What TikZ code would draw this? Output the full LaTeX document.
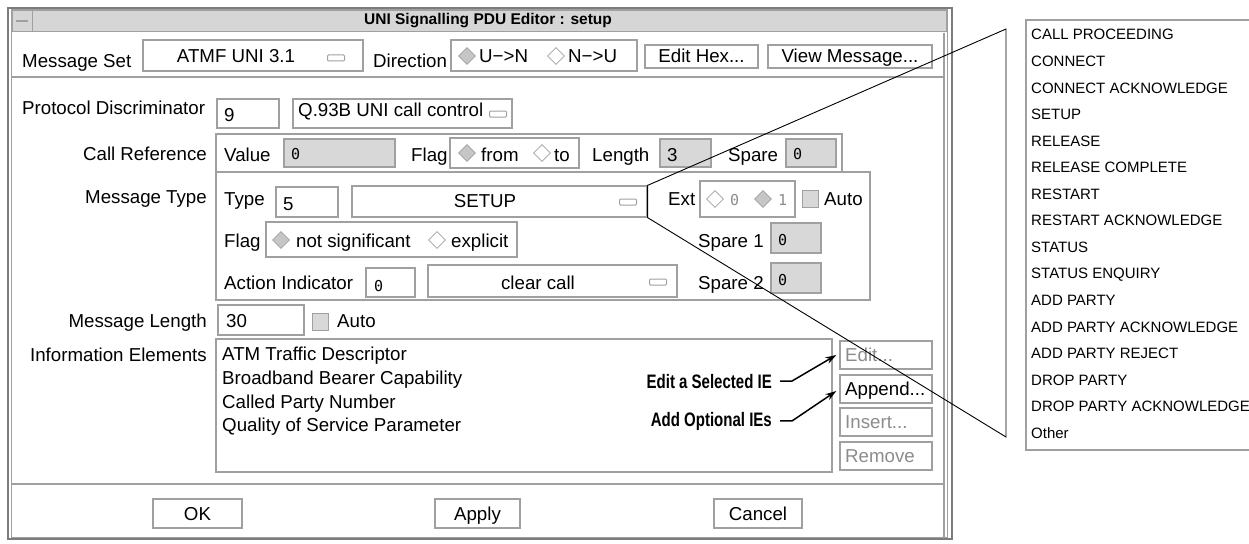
\documentclass[tikz,border=0pt]{standalone}
\usepackage{fontspec}
\setmainfont{Liberation Sans}
\newfontfamily\notefont{Liberation Sans}[FakeStretch=0.77]
\newfontfamily\digitfont{DejaVu Sans Mono}
\usetikzlibrary{fit,shapes.geometric,arrows.meta}

\definecolor{edge}{HTML}{A0A0A0}
\definecolor{winedge}{HTML}{7C7C7C}
\definecolor{titlefill}{HTML}{D6D6D6}
\definecolor{fieldfill}{HTML}{D8D8D8}
\definecolor{dimtext}{HTML}{8C8C8C}
\definecolor{diafill}{HTML}{C6C6C6}

% a widget rectangle given by its two corners
\newcommand\wbox[6]{\node[#1, fit={(#3,#4) (#5,#6)}] (#2) {};}

\tikzset{
  ui/.style={font=\fontsize{18.7}{22}\selectfont, inner sep=0pt},
  lab/.style={ui, anchor=base west},
  labr/.style={ui, anchor=base east},
  labc/.style={ui, anchor=base},
  framebox/.style={draw=edge, line width=1.3pt, inner sep=0pt},
  whitebox/.style={framebox, fill=white},
  greybox/.style={framebox, fill=fieldfill},
  btn/.style={framebox, fill=white},
  dashic/.style={draw=edge, fill=white, line width=1pt, rounded corners=1pt,
                 minimum width=17pt, minimum height=6pt, inner sep=0pt},
  rdon/.style={diamond, draw=edge, fill=diafill, line width=0.8pt,
               minimum width=17pt, minimum height=17pt, inner sep=0pt},
  rdoff/.style={diamond, draw=edge, fill=white, line width=0.8pt,
                minimum width=17pt, minimum height=17pt, inner sep=0pt},
  zero/.style={font=\digitfont\fontsize{15}{18}\selectfont, inner sep=0pt, anchor=base west},
  listitem/.style={font=\fontsize{15}{18}\selectfont, inner sep=0pt, anchor=base west},
  note/.style={font=\notefont\bfseries\fontsize{19.5}{22}\selectfont, inner sep=0pt, anchor=base east},
  pointer/.style={line width=1.5pt, -{Stealth[length=11pt,width=7pt]}},
}

\begin{document}
\begin{tikzpicture}[x=1pt,y=-1pt]
\useasboundingbox (0,0) rectangle (1249,543);
\fill[white] (0,0) rectangle (1249,543);

% ---------- window frame ----------
\wbox{draw=winedge, line width=1.6pt, inner sep=0pt}{win}{8}{8}{952}{539}
\wbox{draw=edge, line width=1pt, inner sep=0pt}{wininner}{11}{10}{947}{537}
\wbox{fill=titlefill, draw=edge, line width=1pt, inner sep=0pt}{titlebar}{12}{11}{946}{32}
\wbox{draw=edge, line width=1pt, inner sep=0pt}{winmenu}{12}{11}{32}{32}
\draw[edge, line width=1.6pt] (16,21) -- (28,21);
\node[font=\bfseries\fontsize{15.5}{18}\selectfont, inner sep=0pt] (title) at (488,21)
  {UNI Signalling PDU Editor : setup};

% panel separators
\draw[edge, line width=1.2pt] (12,77) -- (944,77);
\draw[edge, line width=1.2pt] (12,484) -- (944,484);
\draw[edge, line width=1.2pt] (944,33) -- (944,537);

% ---------- message set row ----------
\node[lab] (lMsgSet) at (22,67) {Message Set};
\wbox{whitebox}{msgset}{143}{40}{363}{71}
\node[labc] (msgsetT) at (236,63) {ATMF UNI 3.1};
\node[dashic] (msgsetI) at (336,58) {};

\node[lab] (lDir) at (373,67) {Direction};
\wbox{whitebox}{dirbox}{451}{40}{637}{71}
\node[rdon] (dirUN) at (467,56) {};
\node[lab] (dirUNt) at (479,63) {U−>N};
\node[rdoff] (dirNU) at (556,56) {};
\node[lab] (dirNUt) at (568,63) {N−>U};

\wbox{btn}{edithex}{645}{45}{758}{68}
\node[labc] (edithexT) at (701.5,63) {Edit Hex...};
\wbox{btn}{viewmsg}{768}{45}{932}{68}
\node[labc] (viewmsgT) at (850,63) {View Message...};

% ---------- protocol discriminator ----------
\node[lab] (lProto) at (22,114) {Protocol Discriminator};
\wbox{whitebox}{protofield}{217}{99}{279}{128}
\node[lab] (protoval) at (224,121) {9};
\wbox{whitebox}{protocombo}{293}{99}{512}{128}
\node[lab] (protoT) at (298,116) {Q.93B UNI call control};
\node[dashic] (protoI) at (498,114) {};

% ---------- call reference ----------
\node[labr] (lCallRef) at (207,160) {Call Reference};
\wbox{framebox}{callref}{216}{134}{842}{172}
\node[lab] (crValueL) at (224,161) {Value};
\wbox{greybox}{crValue}{284}{139}{395}{167}
\node[zero] (crValueT) at (291,159) {0};
\node[lab] (crFlagL) at (411,161) {Flag};
\wbox{whitebox}{crFlag}{450}{138}{579}{168}
\node[rdon] (crFrom) at (467,153) {};
\node[lab] (crFromT) at (481,161) {from};
\node[rdoff] (crTo) at (542,153) {};
\node[lab] (crToT) at (554,161) {to};
\node[lab] (crLenL) at (592,161) {Length};
\wbox{greybox}{crLen}{660}{139}{711}{167}
\node[lab] (crLenT) at (667,161) {3};
\node[lab] (crSpareL) at (728,161) {Spare};
\wbox{greybox}{crSpare}{786}{139}{836}{167}
\node[zero] (crSpareT) at (793,159) {0};

% ---------- message type ----------
\node[labr] (lMsgType) at (207,203) {Message Type};
\wbox{framebox}{msgtype}{216}{172}{870}{300}
\node[lab] (mtTypeL) at (224,205) {Type};
\wbox{whitebox}{mtType}{276}{187}{338}{217}
\node[lab] (mtTypeT) at (283,210) {5};
\wbox{whitebox}{setup}{352}{186}{647}{217}
\node[labc] (setupT) at (485,207) {SETUP};
\node[dashic] (setupI) at (628,202) {};

\node[lab] (mtExtL) at (668,205) {Ext};
\wbox{whitebox}{mtExt}{700}{181}{795}{217}
\node[rdoff] (ext0) at (715,199) {};
\node[zero, text=dimtext] (ext0T) at (730,205) {0};
\node[rdon] (ext1) at (763,199) {};
\node[zero, text=dimtext] (ext1T) at (778,205) {1};
\wbox{greybox, line width=1pt}{mtAuto}{802}{190}{818}{207}
\node[lab] (mtAutoT) at (824,205) {Auto};

\node[lab] (mtFlagL) at (224,247) {Flag};
\wbox{whitebox}{mtFlag}{266}{222}{517}{257}
\node[rdon] (mtNotSig) at (281,240) {};
\node[lab] (mtNotSigT) at (296,247) {not significant};
\node[rdoff] (mtExpl) at (437,240) {};
\node[lab] (mtExplT) at (451,247) {explicit};
\node[lab] (mtSp1L) at (698,247) {Spare 1};
\wbox{greybox}{mtSp1}{771}{223}{821}{253}
\node[zero] (mtSp1T) at (778,245) {0};

\node[lab] (mtActL) at (224,289) {Action Indicator};
\wbox{whitebox}{mtAct}{366}{268}{415}{297}
\node[zero] (mtActT) at (374,291) {0};
\wbox{whitebox}{clearcall}{428}{265}{677}{297}
\node[labc] (clearcallT) at (538,289) {clear call};
\node[dashic] (clearcallI) at (658,282) {};
\node[lab] (mtSp2L) at (698,289) {Spare 2};
\wbox{greybox}{mtSp2}{771}{263}{821}{293}
\node[zero] (mtSp2T) at (778,285) {0};

% ---------- message length ----------
\node[labr] (lMsgLen) at (207,327) {Message Length};
\wbox{whitebox}{msglen}{218}{305}{304}{335}
\node[lab] (msglenT) at (226,327) {30};
\wbox{greybox, line width=1pt}{mlAuto}{312}{313}{328}{330}
\node[lab] (mlAutoT) at (337,327) {Auto};

% ---------- information elements ----------
\node[labr] (lIE) at (207,361) {Information Elements};
\wbox{whitebox}{ielist}{216}{339}{832}{472}
\node[lab] (ie1) at (222,360) {ATM Traffic Descriptor};
\node[lab] (ie2) at (222,384) {Broadband Bearer Capability};
\node[lab] (ie3) at (222,408) {Called Party Number};
\node[lab] (ie4) at (222,431) {Quality of Service Parameter};

\wbox{btn}{btnEdit}{840}{341}{932}{369}
\node[lab, text=dimtext] (btnEditT) at (845,361) {Edit...};
\wbox{btn}{btnAppend}{840}{375}{932}{403}
\node[lab] (btnAppendT) at (845,395) {Append...};
\wbox{btn}{btnInsert}{840}{408}{932}{436}
\node[lab, text=dimtext] (btnInsertT) at (845,428) {Insert...};
\wbox{btn}{btnRemove}{840}{442}{932}{470}
\node[lab, text=dimtext] (btnRemoveT) at (845,462) {Remove};

% ---------- dialog buttons ----------
\wbox{btn}{btnOK}{153}{499}{242}{528}
\node[labc] (btnOKT) at (197.5,520) {OK};
\wbox{btn}{btnApply}{435}{499}{520}{528}
\node[labc] (btnApplyT) at (477.5,520) {Apply};
\wbox{btn}{btnCancel}{714}{499}{802}{528}
\node[labc] (btnCancelT) at (758,520) {Cancel};

% ---------- annotations ----------
\node[note] (noteEdit) at (772,388) {Edit a Selected IE};
\node[note] (noteAdd) at (772,426) {Add Optional IEs};
\draw[pointer] ([xshift=8pt]noteEdit.east) -- ++(12,0) -- ([xshift=-3pt]btnEdit.west);
\draw[pointer] ([xshift=8pt]noteAdd.east) -- ++(12,0) -- ([xshift=-3pt,yshift=-2pt]btnAppend.west);

% ---------- message type menu ----------
\wbox{draw=edge, line width=1.2pt, inner sep=0pt}{typelist}{1026}{20}{1262}{450}
\foreach \t [count=\i from 0] in {CALL PROCEEDING, CONNECT, CONNECT ACKNOWLEDGE, SETUP,
    RELEASE, RELEASE COMPLETE, RESTART, RESTART ACKNOWLEDGE, STATUS, STATUS ENQUIRY,
    ADD PARTY, ADD PARTY ACKNOWLEDGE, ADD PARTY REJECT, DROP PARTY,
    DROP PARTY ACKNOWLEDGE, Other}
  \node[listitem] (item\i) at (1031,{40+26.55*\i}) {\t};

\coordinate (brTop) at (1006,29);
\coordinate (brBot) at (1006,437);
\draw[black, line width=0.9pt] (setup.north east) -- (brTop) -- (brBot) -- (setup.south east) -- cycle;
\end{tikzpicture}
\end{document}
